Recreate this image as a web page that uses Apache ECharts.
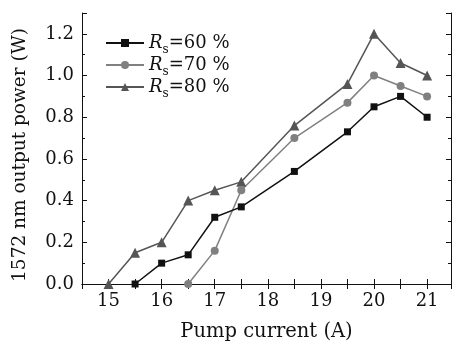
<!DOCTYPE html>
<html>
<head>
<meta charset="utf-8">
<script src="https://cdn.jsdelivr.net/npm/echarts@6/dist/echarts.min.js"></script>
<style>
  html, body { margin: 0; padding: 0; background: #fff; }
  #chart { width: 454px; height: 347px; }
</style>
</head>
<body>
<div id="chart"></div>
<script>
// data
const current60 = [15.5, 16, 16.5, 17, 17.5, 18.5, 19.5, 20, 20.5, 21];
const power60 = [0, 0.10, 0.14, 0.32, 0.37, 0.54, 0.73, 0.85, 0.90, 0.80];
const current70 = [16.5, 17, 17.5, 18.5, 19.5, 20, 20.5, 21];
const power70 = [0, 0.16, 0.45, 0.70, 0.87, 1.00, 0.95, 0.90];
const current80 = [15, 15.5, 16, 16.5, 17, 17.5, 18.5, 19.5, 20, 20.5, 21];
const power80 = [0, 0.15, 0.20, 0.40, 0.45, 0.49, 0.76, 0.96, 1.20, 1.06, 1.00];
const seriesNames = ['60 %', '70 %', '80 %'];

const FONT = '"DejaVu Serif", "Liberation Serif", serif';
const pairs = (xs, ys) => xs.map((x, i) => [x, ys[i]]);

const chart = echarts.init(document.getElementById('chart'));

const xBase = {
  type: 'value',
  min: 14.5,
  max: 21.45,
  interval: 0.5,
  axisLine: { lineStyle: { color: '#111', width: 1 } },
  axisTick: { inside: true, length: 5, lineStyle: { color: '#111' } },
  splitLine: { show: false },
};
const yBase = {
  type: 'value',
  min: 0,
  max: 1.3,
  interval: 0.2,
  axisLine: { show: true, lineStyle: { color: '#111', width: 1 } },
  axisTick: { show: true, inside: true, length: 5, lineStyle: { color: '#111' } },
  minorTick: { show: true, splitNumber: 2, length: 3, lineStyle: { color: '#111' } },
  splitLine: { show: false },
};

const lineSeries = (name, data, color, symbol, size) => ({
  name: name,
  type: 'line',
  data: data,
  symbol: symbol,
  symbolSize: size,
  clip: false,
  lineStyle: { color: color, width: 1.5 },
  itemStyle: { color: color },
});

const option = {
  animation: false,
  grid: { left: 82, right: 1.5, top: 13, bottom: 57 },
  legend: {
    data: seriesNames,
    orient: 'vertical',
    left: 105,
    top: 34,
    padding: 0,
    itemGap: 0,
    itemWidth: 38,
    itemHeight: 10,
    formatter: name => '{i|R}{s|s}{n|=' + name + '}',
    textStyle: {
      color: '#111',
      fontFamily: FONT,
      fontSize: 18,
      rich: {
        i: { fontFamily: FONT, fontSize: 18, fontStyle: 'italic', lineHeight: 26, color: '#111' },
        s: { fontFamily: FONT, fontSize: 12, lineHeight: 6, verticalAlign: 'bottom', color: '#111' },
        n: { fontFamily: FONT, fontSize: 18, lineHeight: 26, color: '#111' },
      },
    },
  },
  xAxis: [
    Object.assign({}, xBase, {
      position: 'bottom',
      name: 'Pump current (A)',
      nameLocation: 'middle',
      nameGap: 38,
      nameTextStyle: { fontFamily: FONT, fontSize: 19.5, color: '#111' },
      axisLabel: {
        margin: 8,
        fontFamily: FONT,
        fontSize: 18,
        color: '#111',
        formatter: v => (Math.abs(v - Math.round(v)) < 1e-6 ? String(Math.round(v)) : ''),
      },
    }),
    Object.assign({}, xBase, { position: 'top', axisLabel: { show: false } }),
  ],
  yAxis: [
    Object.assign({}, yBase, {
      position: 'left',
      axisLabel: {
        margin: 8,
        fontFamily: FONT,
        fontSize: 18,
        color: '#111',
        formatter: v => (v > 1.25 ? '' : v.toFixed(1)),
      },
    }),
    Object.assign({}, yBase, { position: 'right', axisLabel: { show: false } }),
  ],
  graphic: [
    {
      type: 'text',
      x: 20,
      y: 155,
      rotation: Math.PI / 2,
      style: {
        text: '1572 nm output power (W)',
        font: '18.5px ' + FONT,
        fill: '#111',
        align: 'center',
        verticalAlign: 'middle',
        textAlign: 'center',
        textVerticalAlign: 'middle',
      },
    },
  ],
  series: [
    lineSeries('80 %', pairs(current80, power80), '#555555', 'triangle', 10),
    lineSeries('70 %', pairs(current70, power70), '#808080', 'circle', 8),
    lineSeries('60 %', pairs(current60, power60), '#111111', 'rect', 7),
  ],
};

chart.setOption(option);
window.addEventListener('resize', () => chart.resize());
</script>
</body>
</html>
